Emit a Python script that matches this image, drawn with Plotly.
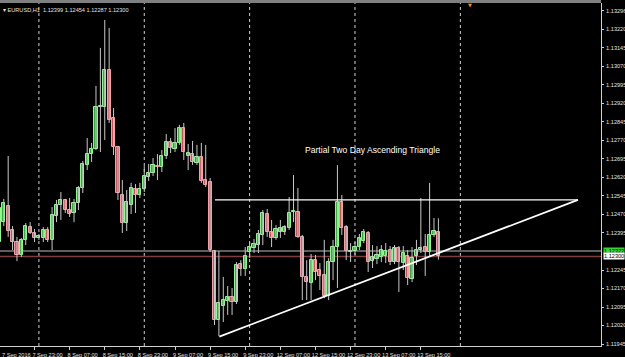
import numpy as np
import plotly.graph_objects as go

# ---------------- data (EURUSD H1, bar 0 = 7 Sep 2016 15:00) ----------------
opens = [1.12358, 1.12439, 1.12504, 1.12407, 1.12358, 1.12306, 1.12367, 1.12419, 1.12395, 1.12375,
         1.12375, 1.12407, 1.12367, 1.12464, 1.12508, 1.12529, 1.12488, 1.12476, 1.12516, 1.12577,
         1.12671, 1.12715, 1.12735, 1.12906, 1.12906, 1.13056, 1.12861, 1.12743, 1.12549, 1.12435,
         1.12508, 1.12573, 1.12549, 1.12573, 1.12622, 1.12638, 1.12666, 1.12662, 1.12707, 1.12764,
         1.12735, 1.12760, 1.12820, 1.12707, 1.12715, 1.12679, 1.12703, 1.12610, 1.12602, 1.12322,
         1.12042, 1.12099, 1.12119, 1.12136, 1.12115, 1.12269, 1.12249, 1.12318, 1.12334, 1.12346,
         1.12387, 1.12472, 1.12399, 1.12375, 1.12399, 1.12399, 1.12415, 1.12480, 1.12480, 1.12379,
         1.12217, 1.12192, 1.12285, 1.12245, 1.12225, 1.12140, 1.12277, 1.12338, 1.12521, 1.12419,
         1.12318, 1.12322, 1.12338, 1.12362, 1.12395, 1.12281, 1.12290, 1.12298, 1.12302, 1.12326,
         1.12277, 1.12334, 1.12273, 1.12302, 1.12208, 1.12302, 1.12326, 1.12338, 1.12318, 1.12387,
         1.12399]
highs = [1.12516, 1.12533, 1.12707, 1.12423, 1.12379, 1.12375, 1.12435, 1.12439, 1.12411, 1.12391,
         1.12419, 1.12419, 1.12500, 1.12529, 1.12561, 1.12533, 1.12537, 1.12533, 1.12585, 1.12687,
         1.12780, 1.12760, 1.12991, 1.13145, 1.13258, 1.13226, 1.12902, 1.12748, 1.12610, 1.12569,
         1.12598, 1.12593, 1.12598, 1.12666, 1.12675, 1.12699, 1.12715, 1.12731, 1.12796, 1.12780,
         1.12820, 1.12833, 1.12841, 1.12756, 1.12768, 1.12752, 1.12760, 1.12752, 1.12618, 1.12326,
         1.12322, 1.12217, 1.12180, 1.12172, 1.12277, 1.12285, 1.12338, 1.12358, 1.12371, 1.12407,
         1.12488, 1.12492, 1.12448, 1.12427, 1.12448, 1.12427, 1.12541, 1.12630, 1.12577, 1.12387,
         1.12285, 1.12310, 1.12306, 1.12273, 1.12367, 1.12293, 1.12367, 1.12670, 1.12549, 1.12427,
         1.12354, 1.12358, 1.12391, 1.12411, 1.12403, 1.12346, 1.12342, 1.12346, 1.12354, 1.12342,
         1.12346, 1.12342, 1.12342, 1.12326, 1.12338, 1.12367, 1.12537, 1.12391, 1.12598, 1.12456,
         1.12454]
lows = [1.12277, 1.12423, 1.12379, 1.12326, 1.12281, 1.12298, 1.12346, 1.12391, 1.12358, 1.12367,
        1.12358, 1.12358, 1.12326, 1.12439, 1.12448, 1.12476, 1.12460, 1.12439, 1.12488, 1.12557,
        1.12650, 1.12683, 1.12731, 1.12723, 1.12772, 1.12841, 1.12711, 1.12529, 1.12395, 1.12403,
        1.12472, 1.12476, 1.12537, 1.12561, 1.12606, 1.12626, 1.12610, 1.12642, 1.12695, 1.12719,
        1.12723, 1.12752, 1.12691, 1.12650, 1.12671, 1.12671, 1.12598, 1.12581, 1.12318, 1.12022,
        1.11977, 1.12034, 1.12063, 1.12063, 1.12107, 1.12221, 1.12221, 1.12294, 1.12314, 1.12314,
        1.12346, 1.12379, 1.12338, 1.12367, 1.12375, 1.12387, 1.12407, 1.12439, 1.12375, 1.12123,
        1.12123, 1.12123, 1.12204, 1.12164, 1.12131, 1.12123, 1.12204, 1.12172, 1.12387, 1.12285,
        1.12277, 1.12306, 1.12326, 1.12354, 1.12237, 1.12253, 1.12269, 1.12277, 1.12273, 1.12265,
        1.12269, 1.12156, 1.12245, 1.12184, 1.12196, 1.12265, 1.12314, 1.12221, 1.12302, 1.12379,
        1.12287]
closes = [1.12496, 1.12516, 1.12403, 1.12358, 1.12306, 1.12367, 1.12423, 1.12395, 1.12375, 1.12383,
          1.12407, 1.12367, 1.12468, 1.12508, 1.12529, 1.12488, 1.12472, 1.12516, 1.12577, 1.12675,
          1.12715, 1.12735, 1.12906, 1.12910, 1.13056, 1.12853, 1.12743, 1.12557, 1.12435, 1.12521,
          1.12577, 1.12549, 1.12573, 1.12626, 1.12638, 1.12671, 1.12662, 1.12707, 1.12764, 1.12739,
          1.12760, 1.12820, 1.12723, 1.12719, 1.12683, 1.12703, 1.12606, 1.12589, 1.12326, 1.12042,
          1.12111, 1.12123, 1.12136, 1.12115, 1.12265, 1.12249, 1.12302, 1.12338, 1.12350, 1.12391,
          1.12476, 1.12399, 1.12375, 1.12411, 1.12415, 1.12419, 1.12476, 1.12484, 1.12379, 1.12217,
          1.12196, 1.12285, 1.12237, 1.12221, 1.12140, 1.12277, 1.12338, 1.12521, 1.12415, 1.12322,
          1.12322, 1.12338, 1.12375, 1.12399, 1.12277, 1.12298, 1.12306, 1.12326, 1.12322, 1.12277,
          1.12334, 1.12277, 1.12314, 1.12213, 1.12294, 1.12326, 1.12334, 1.12318, 1.12387, 1.12403,
          1.12300]

time_labels = ["7 Sep 2016", "7 Sep 23:00", "8 Sep 07:00", "8 Sep 15:00", "8 Sep 23:00",
               "9 Sep 07:00", "9 Sep 15:00", "9 Sep 23:00", "12 Sep 07:00", "12 Sep 15:00",
               "12 Sep 23:00", "13 Sep 07:00", "13 Sep 15:00"]
time_label_bars = [0, 8, 16, 24, 32, 40, 48, 56, 64, 72, 80, 88, 96]
day_separator_bars = [9, 33, 57, 81, 105]

price_ticks = [1.11945, 1.12020, 1.12095, 1.12170, 1.12245, 1.12395, 1.12470, 1.12545,
               1.12620, 1.12695, 1.12770, 1.12845, 1.12920, 1.12995, 1.13070, 1.13145,
               1.13220, 1.13296]
price_tick_text = ["1.11945", "1.12020", "1.12095", "1.12170", "1.12245", "1.12395", "1.12470",
                   "1.12545", "1.12620", "1.12695", "1.12770", "1.12845", "1.12920", "1.12995",
                   "1.13070", "1.13145", "1.13220", "1.13296"]

level_price = 1.12322      # horizontal line (green label)
bid_price = 1.12300        # current price (white label)

resistance_x = [49.1, 131.8]
resistance_y = [1.12529, 1.12529]
support_x = [50.1, 131.8]
support_y = [1.11975, 1.12529]

header_text = "\u25be EURUSD,H1  1.12399 1.12454 1.12287 1.12300"
pattern_text = "Partial Two Day Ascending Triangle"
pattern_pos = (85.0, 1.12731)

# ---------------- figure ----------------
o = np.array(opens); h = np.array(highs); l = np.array(lows); c = np.array(closes)
idx = np.arange(len(o))
up = c >= o

wx, wy = [], []
for i in range(len(o)):
    wx += [i, i, None]
    wy += [l[i], h[i], None]

fig = go.Figure()
fig.add_trace(go.Scatter(x=wx, y=wy, mode="lines", line=dict(color="#c8c8c8", width=1),
                         hoverinfo="skip", showlegend=False))
fig.add_trace(go.Bar(x=idx, y=np.abs(c - o), base=np.minimum(o, c), width=0.72,
                     marker=dict(color=np.where(up, "#34a83c", "#c4545c").tolist(),
                                 line=dict(color=np.where(up, "#92f592", "#f4a0a6").tolist(), width=1)),
                     showlegend=False))
fig.add_trace(go.Scatter(x=resistance_x, y=resistance_y, mode="lines",
                         line=dict(color="white", width=1.3), showlegend=False))
fig.add_trace(go.Scatter(x=support_x, y=support_y, mode="lines",
                         line=dict(color="white", width=1.8), showlegend=False))

shapes = []
for b in day_separator_bars:
    shapes.append(dict(type="line", xref="x", yref="paper", x0=b, x1=b, y0=0, y1=1,
                       line=dict(color="#d0d0d0", width=1, dash="dot"), layer="below"))
shapes.append(dict(type="line", xref="paper", yref="y", x0=0, x1=1, y0=level_price, y1=level_price,
                   line=dict(color="#b8c0b8", width=1), layer="below"))
shapes.append(dict(type="line", xref="paper", yref="y", x0=0, x1=1, y0=bid_price, y1=bid_price,
                   line=dict(color="#7e3e3e", width=1.6), layer="below"))
shapes.append(dict(type="rect", xref="paper", yref="paper", x0=0, x1=1, y0=1.0, y1=1.0 + 3 / 343,
                   line=dict(width=0), fillcolor="#808080"))

tick_font = dict(family="Liberation Sans", size=5.6, color="#e0e0e0")
annotations = [
    dict(xref="paper", yref="y", x=1, y=level_price, text="1.12322", showarrow=False,
         xanchor="left", xshift=2, font=dict(family="Liberation Sans", size=5.6, color="black"),
         bgcolor="#33d633", borderpad=0),
    dict(xref="paper", yref="y", x=1, y=bid_price, text="1.12300", showarrow=False,
         xanchor="left", xshift=2, font=dict(family="Liberation Sans", size=5.6, color="black"),
         bgcolor="white", borderpad=0),
    dict(xref="paper", yref="paper", x=0, y=1, yshift=-2, text=header_text, showarrow=False,
         xanchor="left", yanchor="top", xshift=1,
         font=dict(family="Liberation Sans", size=5.6, color="#e0e0e0")),
    dict(xref="x", yref="y", x=pattern_pos[0], y=pattern_pos[1], text=pattern_text, showarrow=False,
         xanchor="center", yanchor="middle",
         font=dict(family="Liberation Sans", size=8.6, color="white")),
    dict(xref="paper", yref="paper", x=470 / 601, y=1, yshift=3, text="\u25bc", showarrow=False,
         xanchor="center", yanchor="top", font=dict(family="DejaVu Sans", size=5, color="#e8922a")),
    # first time label sits at the left edge (its bar is just outside the visible range)
    dict(xref="paper", yref="paper", x=0, y=0, yshift=-4, text=time_labels[0], showarrow=False,
         xanchor="left", yanchor="top", xshift=0, font=tick_font),
]

fig.update_layout(
    width=625, height=357,
    margin=dict(l=0, r=24, t=3, b=11),
    paper_bgcolor="black", plot_bgcolor="black",
    shapes=shapes, annotations=annotations,
    bargap=0, showlegend=False,
    xaxis=dict(range=[0.137, 137.04], showgrid=False, zeroline=False, showline=True,
               linecolor="#d0d0d0", linewidth=1, ticks="outside", ticklen=3, tickcolor="#d0d0d0",
               tickvals=time_label_bars[1:], ticktext=time_labels[1:], tickfont=tick_font,
               tickangle=0, automargin=False,
               ticklabelshift=13, ticklabelstandoff=0, fixedrange=True),
    yaxis=dict(range=[1.11937, 1.13327], side="right", showgrid=False, zeroline=False,
               showline=True, linecolor="#d0d0d0", linewidth=1, ticks="outside", ticklen=2,
               tickcolor="#d0d0d0", tickvals=price_ticks, ticktext=price_tick_text,
               tickfont=tick_font, ticklabelstandoff=1, automargin=False, fixedrange=True),
)

fig.write_html("out.html")
